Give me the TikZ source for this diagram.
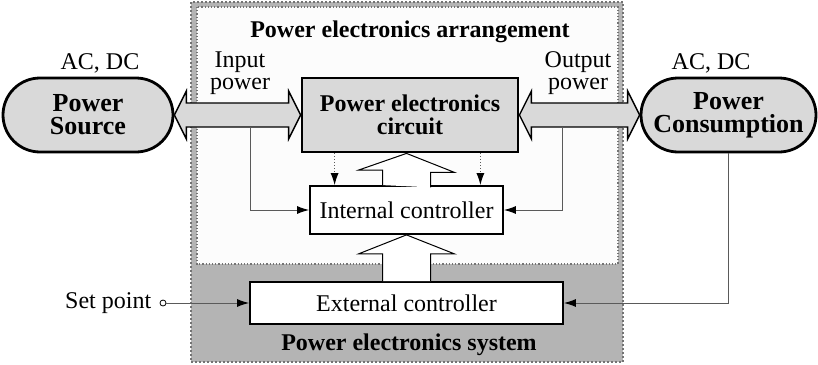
\documentclass[tikz,border=0pt]{standalone}
\usepackage{fontspec}
\setmainfont{Liberation Serif}
\usetikzlibrary{arrows.meta,positioning,calc,shapes.misc}
\definecolor{shade}{HTML}{B4B4B4}
\definecolor{paper}{HTML}{FCFCFC}
\definecolor{unitgray}{HTML}{D9D9D9}
\definecolor{wiregray}{HTML}{5A5A5A}
\tikzset{
  sysbox/.style={draw=black!55,densely dotted,line width=1pt,fill=shade},
  arrbox/.style={draw=black!55,densely dotted,line width=0.6pt,fill=paper},
  terminal/.style={rounded rectangle,draw=black,line width=1.4pt,fill=unitgray,align=center,inner sep=0pt,minimum height=37pt,font=\fontsize{13}{11.5}\selectfont\bfseries},
  unit/.style={draw=black,line width=1.4pt,fill=unitgray,align=center,minimum width=108pt,minimum height=37pt,inner sep=0pt,font=\fontsize{12}{11.5}\selectfont\bfseries},
  ctrl/.style={draw=black,line width=0.9pt,fill=white,inner sep=0pt,font=\fontsize{12}{12}\selectfont},
  lbl/.style={align=center,inner sep=0pt,font=\fontsize{12}{11}\selectfont},
  title/.style={anchor=base,inner sep=0pt,font=\fontsize{12}{12}\selectfont\bfseries},
  flow/.style={draw=black,line width=0.7pt,fill=unitgray,line join=miter},
  hollow/.style={draw=black,line width=0.5pt,fill=white},
  wire/.style={draw=wiregray,line width=0.5pt,-{Latex[length=6pt,width=4pt,color=black]}},
  sense/.style={wire,densely dotted},
  port/.style={circle,draw=black,line width=0.4pt,fill=white,minimum size=3pt,inner sep=0pt},
}
\newcommand{\powerflow}[2]{%
  \draw[flow] (#1) -- ($(#1)+(12,-24)$) -- ($(#1)+(12,-12)$) -- ($(#2)+(-12,-12)$)
    -- ($(#2)+(-12,-24)$) -- (#2) -- ($(#2)+(-12,24)$) -- ($(#2)+(-12,12)$)
    -- ($(#1)+(12,12)$) -- ($(#1)+(12,24)$) -- cycle;}
\begin{document}
\begin{tikzpicture}[x=0.5pt,y=-0.5pt]
  \useasboundingbox (0,0) rectangle (818,364);
  % frames
  \draw[sysbox] (191,2) rectangle (623,362);
  \draw[arrbox] (197,7) rectangle (618,264);
  \node[title] (arrname) at (410,37) {Power electronics arrangement};
  \node[title] (sysname) at (409,350) {Power electronics system};
  % power path
  \node[terminal,minimum width=85pt] (src) at (88,115) {Power\\Source};
  \node[terminal,minimum width=87.5pt] (load) at (728.5,115) {Power\\Consumption};
  \node[unit] (circ) at (410,115) {Power electronics\\circuit};
  \node[lbl,anchor=base] (srcac) at (100,69) {AC, DC};
  \node[lbl,anchor=base] (loadac) at (711,69) {AC, DC};
  \node[lbl] (inpw) at (240,73) {Input\\power};
  \node[lbl] (outpw) at (578,73) {Output\\power};
  \powerflow{src.east}{circ.west}
  \powerflow{circ.east}{load.west}
  % control
  \node[ctrl,minimum width=96.5pt,minimum height=24pt] (intc) at (406.5,210) {Internal controller};
  \node[ctrl,minimum width=156.5pt,minimum height=21pt] (extc) at (406.5,303) {External controller};
  \draw[hollow] ($(intc.north)+(-24,0)$) -- ++(0,-15) -- ++(-24,0) -- (intc.north |- circ.south)
    -- ++(48,19) -- ++(-24,0) -- ++(0,15);
  \draw[hollow] ($(extc.north)+(-24,0)$) -- ($(intc.south)+(-24,19)$) -- ++(-24,0) -- (intc.south)
    -- ++(48,19) -- ++(-24,0) -- ($(extc.north)+(24,0)$);
  \draw[sense] ($(circ.south west)+(34,0)$) coordinate (sL) -- (sL |- intc.north);
  \draw[sense] ($(circ.south east)+(-39,0)$) coordinate (sR) -- (sR |- intc.north);
  \coordinate (tapL) at ($(src.east)!0.6!(circ.west)+(0,12)$);
  \coordinate (tapR) at ($(circ.east)!0.36!(load.west)+(0,12)$);
  \draw[wire] (tapL) |- (intc.west);
  \draw[wire] (tapR) |- (intc.east);
  \draw[wire] (load.south) |- (extc.east);
  \node[port] (sp) at (163,303) {};
  \node[lbl,left=4pt of sp] (spname) {Set point};
  \draw[wire] (sp) -- (extc.west);
\end{tikzpicture}
\end{document}
